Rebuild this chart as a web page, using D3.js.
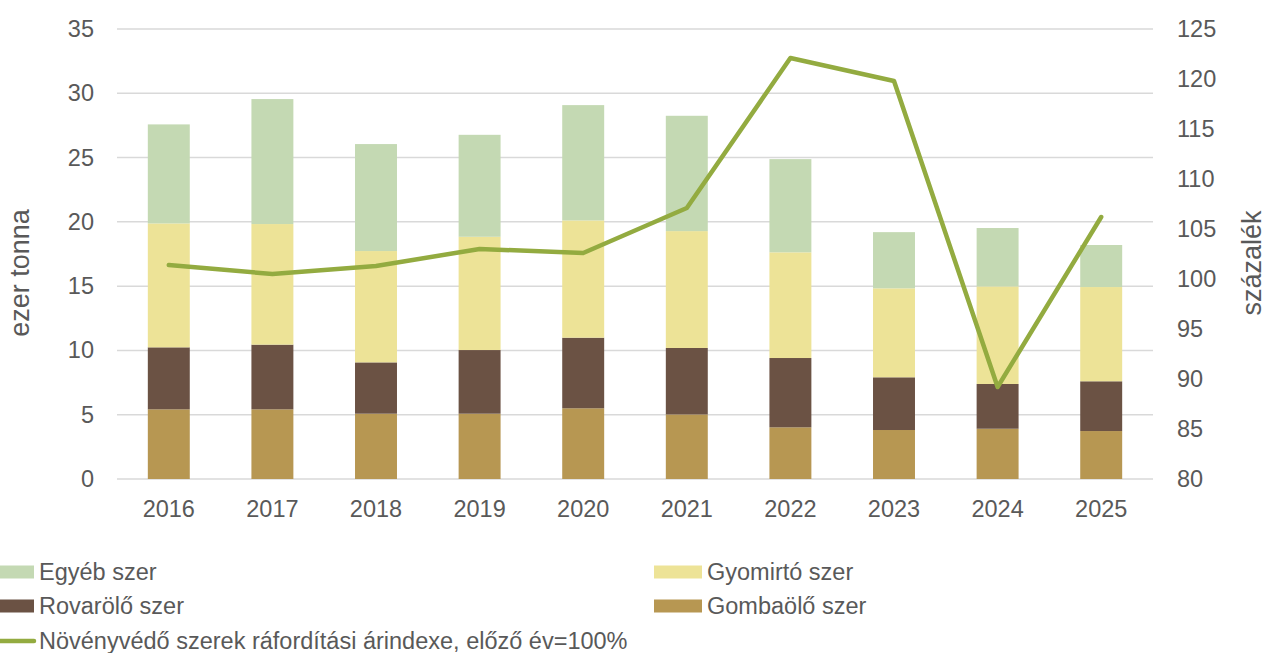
<!DOCTYPE html>
<html>
<head>
<meta charset="utf-8">
<script src="https://cdn.jsdelivr.net/npm/d3@7"></script>
<style>
  body { margin: 0; background: #fff; }
  svg { display: block; font-family: "Liberation Sans", Arial, sans-serif; }
</style>
</head>
<body>
<div id="root"></div>
<script>
const years = ['2016', '2017', '2018', '2019', '2020', '2021', '2022', '2023', '2024', '2025'];
const gomba = [5.42, 5.42, 5.08, 5.08, 5.5, 5.02, 4.02, 3.81, 3.91, 3.73];
const rovar = [4.82, 5.03, 3.99, 4.95, 5.49, 5.17, 5.39, 4.1, 3.48, 3.87];
const gyom = [9.64, 9.38, 8.66, 8.81, 9.12, 9.09, 8.22, 6.92, 7.59, 7.33];
const egyeb = [7.7, 9.72, 8.32, 7.93, 8.97, 8.97, 7.25, 4.37, 4.54, 3.27];
const arindex = [101.4, 100.5, 101.3, 103.0, 102.6, 107.1, 122.1, 119.8, 89.2, 106.2];
const leftTicks = [0, 5, 10, 15, 20, 25, 30, 35];
const rightTicks = [80, 85, 90, 95, 100, 105, 110, 115, 120, 125];

const W = 1271;
const H = 653;
const plot = { left: 117, right: 1153, top: 29, bottom: 479 };
const textColor = '#595959';
const fontSize = 23.5;

const series = [
    { key: 'gomba', name: 'Gombaölő szer', values: gomba, color: '#b79752' },
    { key: 'rovar', name: 'Rovarölő szer', values: rovar, color: '#6b5244' },
    { key: 'gyom', name: 'Gyomirtó szer', values: gyom, color: '#ede397' },
    { key: 'egyeb', name: 'Egyéb szer', values: egyeb, color: '#c4d9b3' },
];
const lineColor = '#93ab40';

const svg = d3.select('#root')
    .append('svg')
    .attr('width', W)
    .attr('height', H);

const x = d3.scaleBand()
    .domain(years)
    .range([plot.left, plot.right])
    .paddingInner(0.595)
    .paddingOuter(0.2975);

const yLeft = d3.scaleLinear().domain([0, 35]).range([plot.bottom, plot.top]);
const yRight = d3.scaleLinear().domain([80, 125]).range([plot.bottom, plot.top]);

// gridlines
svg.append('g')
    .selectAll('line')
    .data(leftTicks)
    .join('line')
    .attr('x1', plot.left)
    .attr('x2', plot.right)
    .attr('y1', d => yLeft(d))
    .attr('y2', d => yLeft(d))
    .attr('stroke', '#d9d9d9')
    .attr('stroke-width', 1.5);

// stacked bars
const table = years.map((yr, i) => {
    const row = { year: yr };
    series.forEach(s => { row[s.key] = s.values[i]; });
    return row;
});
const stacked = d3.stack().keys(series.map(s => s.key))(table);

svg.append('g')
    .selectAll('g')
    .data(stacked)
    .join('g')
    .attr('fill', (d, i) => series[i].color)
    .selectAll('rect')
    .data(d => d)
    .join('rect')
    .attr('x', d => x(d.data.year))
    .attr('width', x.bandwidth())
    .attr('y', d => yLeft(d[1]))
    .attr('height', d => yLeft(d[0]) - yLeft(d[1]));

// price index line
const line = d3.line()
    .x((d, i) => x(years[i]) + x.bandwidth() / 2)
    .y(d => yRight(d));

svg.append('path')
    .datum(arindex)
    .attr('d', line)
    .attr('fill', 'none')
    .attr('stroke', lineColor)
    .attr('stroke-width', 4.5)
    .attr('stroke-linejoin', 'round')
    .attr('stroke-linecap', 'round');

// axes
const leftAxis = svg.append('g')
    .attr('transform', `translate(${plot.left - 23},0)`)
    .call(d3.axisLeft(yLeft).tickValues(leftTicks).tickSize(0).tickPadding(0));
const rightAxis = svg.append('g')
    .attr('transform', `translate(${plot.right + 24},0)`)
    .call(d3.axisRight(yRight).tickValues(rightTicks).tickSize(0).tickPadding(0));
const bottomAxis = svg.append('g')
    .attr('transform', `translate(0,${plot.bottom + 21})`)
    .call(d3.axisBottom(x).tickSize(0).tickPadding(0));

[leftAxis, rightAxis, bottomAxis].forEach(a => {
    a.select('.domain').remove();
    a.selectAll('text')
        .attr('fill', textColor)
        .style('font-size', `${fontSize}px`)
        .style('font-family', '"Liberation Sans", Arial, sans-serif');
});

// axis titles
svg.append('text')
    .attr('transform', 'translate(28.5,273) rotate(-90)')
    .attr('text-anchor', 'middle')
    .attr('fill', textColor)
    .style('font-size', '27px')
    .text('ezer tonna');

svg.append('text')
    .attr('transform', 'translate(1261,263) rotate(-90)')
    .attr('text-anchor', 'middle')
    .attr('fill', textColor)
    .style('font-size', '27px')
    .text('százalék');

// legend
const legendItems = [
    { name: 'Egyéb szer', color: '#c4d9b3', type: 'rect', x: -14, y: 572 },
    { name: 'Gyomirtó szer', color: '#ede397', type: 'rect', x: 654, y: 572 },
    { name: 'Rovarölő szer', color: '#6b5244', type: 'rect', x: -14, y: 606 },
    { name: 'Gombaölő szer', color: '#b79752', type: 'rect', x: 654, y: 606 },
    { name: 'Növényvédő szerek ráfordítási árindexe, előző év=100%', color: lineColor, type: 'line', x: -14, y: 641 },
];

const legend = svg.append('g')
    .selectAll('g')
    .data(legendItems)
    .join('g')
    .attr('transform', d => `translate(${d.x},${d.y})`);

legend.filter(d => d.type === 'rect')
    .append('rect')
    .attr('x', 0)
    .attr('y', -6.5)
    .attr('width', 48)
    .attr('height', 13)
    .attr('fill', d => d.color);

legend.filter(d => d.type === 'line')
    .append('line')
    .attr('x1', 0)
    .attr('x2', 48)
    .attr('stroke', d => d.color)
    .attr('stroke-width', 4.5)
    .attr('stroke-linecap', 'round');

legend.append('text')
    .attr('x', 53)
    .attr('dy', '0.35em')
    .attr('fill', textColor)
    .style('font-size', `${fontSize}px`)
    .text(d => d.name);
</script>
</body>
</html>
